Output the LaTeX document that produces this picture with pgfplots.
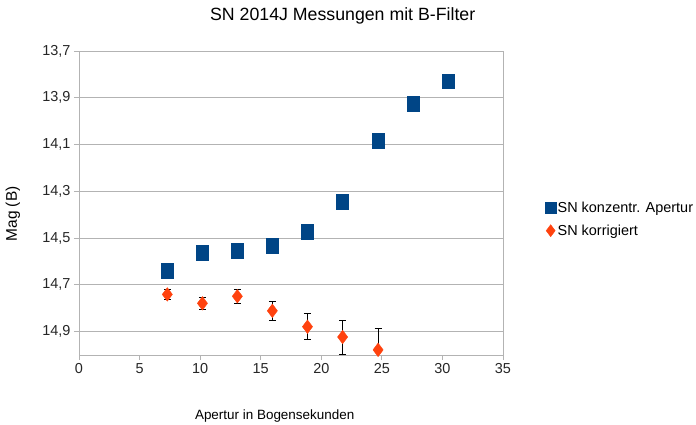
\documentclass[border=0pt]{standalone}
\usepackage{pgfplots}
\pgfplotsset{compat=1.18}
\usepackage{fontspec}
\setmainfont{Liberation Sans}
\definecolor{snblue}{HTML}{004586}
\definecolor{snorange}{HTML}{FF420E}
\definecolor{gridgray}{HTML}{B3B3B3}
\begin{document}
\begin{tikzpicture}
\path[use as bounding box] (-79bp,-70bp) rectangle (617bp,355bp);
\begin{axis}[
  at={(0,0)}, anchor=south west,
  scale only axis, width=424bp, height=304bp,
  xmin=0, xmax=35, ymin=13.7, ymax=15.0,
  y dir=reverse,
  xtick={0,5,...,35},
  ytick={13.7,13.9,14.1,14.3,14.5,14.7,14.9},
  ymajorgrids, grid style={gridgray, line width=0.8pt},
  axis line style={gridgray, line width=0.8pt},
  tick style={gridgray, line width=0.8pt},
  tick align=outside, major tick length=5bp,
  xtick pos=bottom, ytick pos=left,
  /pgf/number format/assume math mode=true,
  yticklabel style={/pgf/number format/.cd, fixed, fixed zerofill, precision=1, use comma},
  xticklabel style={/pgf/number format/.cd, fixed, precision=0},
  tick label style={font=\fontsize{14.5}{16}\selectfont, text=black!85},
  title={SN 2014J Messungen mit B-Filter},
  title style={font=\fontsize{17.8}{21}\selectfont, at={(axis description cs:0.622,1)}, anchor=base, yshift=24.7bp},
  xlabel={Apertur in Bogensekunden},
  xlabel style={font=\fontsize{13.5}{15}\selectfont, at={(axis description cs:0.4615,0)}, anchor=base, yshift=-64bp},
  ylabel={Mag (B)},
  ylabel style={font=\fontsize{15.5}{17}\selectfont, at={(axis description cs:-0.1557,0.464)}, anchor=center},
  legend style={draw=none, fill=none, at={(1.099,0.508)}, anchor=north west, font=\fontsize{14.5}{16}\selectfont, row sep=9bp, inner sep=0pt,
    nodes={inner xsep=1.5bp, inner ysep=1pt}},
  legend image code/.code={\draw[mark repeat=1,mark phase=1,#1] plot coordinates {(0bp,0bp)};},
  legend cell align=left,
  clip=true,
]
\addlegendimage{only marks, mark=square*, mark size=5.5bp, mark options={fill=snblue, draw=snblue}}
\addlegendentry{SN konzentr. Apertur}
\addlegendimage{only marks, mark=diamond*, mark size=6bp, mark options={fill=snorange, draw=snorange}}
\addlegendentry{SN korrigiert}
\addplot[forget plot, only marks, mark=square*, mark size=7.3bp, mark options={xscale=0.82, fill=snblue, draw=snblue}]
coordinates {
(7.29,14.640) (10.19,14.563) (13.07,14.553) (15.96,14.533) (18.86,14.473)
(21.76,14.345) (24.69,14.084) (27.59,13.925) (30.49,13.829)
};
\addplot[forget plot, only marks, mark=diamond*, mark size=6.8bp, mark options={fill=snorange, draw=snorange},
  error bars/.cd, y dir=both, y explicit,
  error bar style={black, line width=0.8pt},
  error mark options={rotate=90, mark size=3.5bp, black, line width=0.8pt}]
coordinates {
(7.29,14.741) +- (0,0.020)
(10.19,14.779) +- (0,0.024)
(13.07,14.749) +- (0,0.030)
(15.96,14.811) +- (0,0.040)
(18.86,14.879) +- (0,0.055)
(21.76,14.923) +- (0,0.073)
(24.69,14.978) +- (0,0.090)
};
\end{axis}
\end{tikzpicture}
\end{document}
